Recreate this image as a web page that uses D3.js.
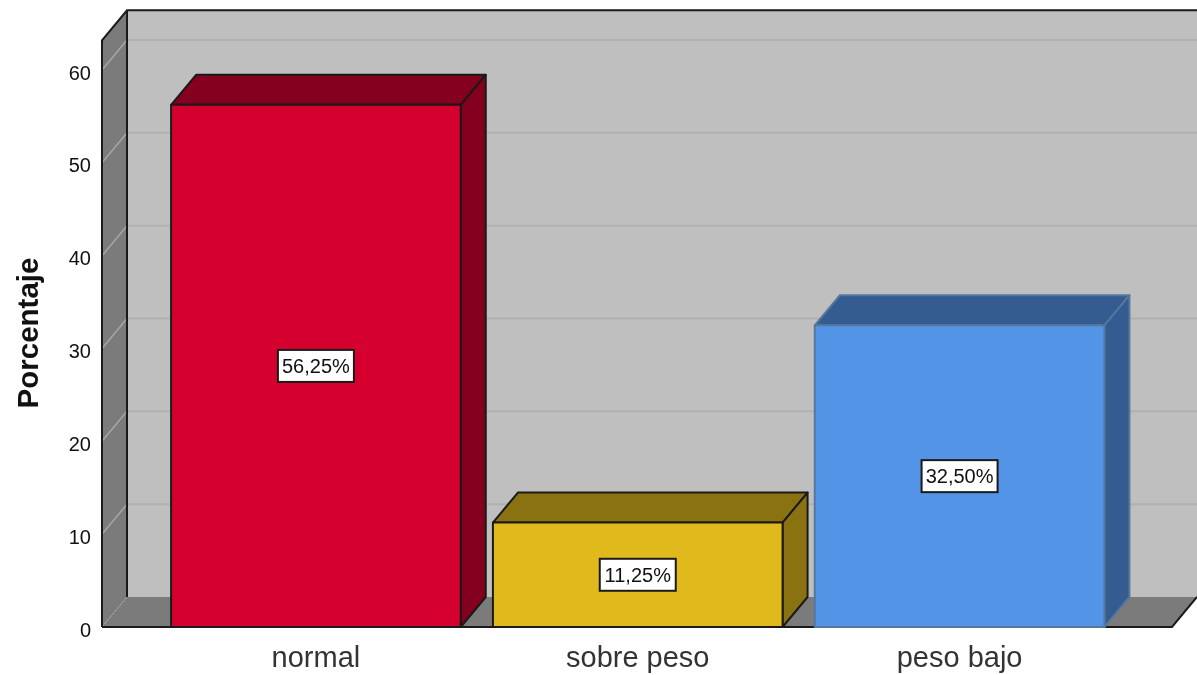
<!DOCTYPE html>
<html><head><meta charset="utf-8">
<script src="https://cdn.jsdelivr.net/npm/d3@7/dist/d3.min.js"></script>
<style>html,body{margin:0;padding:0;background:#fff}svg{display:block;filter:blur(0.45px)}text{font-family:"Liberation Sans",Arial,sans-serif}</style>
</head><body><svg id="c" width="1197" height="675"></svg>
<script>
const categories = ["normal","sobre peso","peso bajo"];
const values = [56.25,11.25,32.5];
const valueLabels = ["56,25%","11,25%","32,50%"];
const frontColors = ["#d6002e","#e0b91c","#5494e6"];
const topColors = ["#84001e","#8a7210","#355c90"];
const edgeColors = ["#1a1a1a","#1a1a1a","#56779c"];
const ticks = [0,10,20,30,40,50,60];
const axisTitle = "Porcentaje";

const svg = d3.select("#c");
const dx = 25, dy = -30;
const y = d3.scaleLinear().domain([0,60]).range([627,70]);
const yTop = 63.2;
const x = d3.scaleBand().domain(categories).range([155,1120.5]).paddingInner(0.1).paddingOuter(0.05);
const left = 102, right = 1172;
const ink = "#1a1a1a";
const poly = (pts,fill,stroke,sw) => svg.append("path").attr("d","M"+pts.map(p=>p.join(",")).join("L")+"Z").attr("fill",fill).attr("stroke",stroke||"none").attr("stroke-width",sw||0).attr("stroke-linejoin","round");

// back wall
poly([[left+dx,y(yTop)+dy],[right+dx,y(yTop)+dy],[right+dx,y(0)+dy],[left+dx,y(0)+dy]],"#bfbfbf");
// floor
poly([[left,y(0)],[right,y(0)],[right+dx,y(0)+dy],[left+dx,y(0)+dy]],"#7b7b7b");
// left wall
poly([[left,y(yTop)],[left+dx,y(yTop)+dy],[left+dx,y(0)+dy],[left,y(0)]],"#7b7b7b");
// grid lines
const gridT = ticks.filter(t=>t>0);
svg.selectAll("line.g").data(gridT).join("line").attr("class","g")
  .attr("x1",left+dx).attr("x2",right+dx).attr("y1",t=>y(t)+dy).attr("y2",t=>y(t)+dy)
  .attr("stroke","#b1b1b1").attr("stroke-width",2);
svg.selectAll("line.gl").data(gridT).join("line").attr("class","gl")
  .attr("x1",left).attr("x2",left+dx).attr("y1",t=>y(t)).attr("y2",t=>y(t)+dy)
  .attr("stroke","#a6a6a6").attr("stroke-width",1.5);
svg.append("line").attr("x1",left).attr("y1",y(0)).attr("x2",left+dx).attr("y2",y(0)+dy)
  .attr("stroke","#a6a6a6").attr("stroke-width",1).attr("stroke-dasharray","2,2");
// frame
svg.append("path").attr("fill","none").attr("stroke",ink).attr("stroke-width",2)
  .attr("d",`M${left},${y(0)}L${left},${y(yTop)}L${left+dx},${y(yTop)+dy}L${right+dx},${y(yTop)+dy}M${left+dx},${y(yTop)+dy}L${left+dx},${y(0)+dy}`);
svg.append("path").attr("fill","none").attr("stroke",ink).attr("stroke-width",2)
  .attr("d",`M${left},${y(0)}L${right},${y(0)}L${right+dx},${y(0)+dy}`);
// bars
categories.forEach((c,i)=>{
  const x0=x(c), x1=x0+x.bandwidth(), t=y(values[i]), b=y(0), e=edgeColors[i];
  poly([[x0,t],[x0+dx,t+dy],[x1+dx,t+dy],[x1,t]],topColors[i],e,2);
  poly([[x1,t],[x1+dx,t+dy],[x1+dx,b+dy],[x1,b]],topColors[i],e,2);
  poly([[x0,t],[x1,t],[x1,b],[x0,b]],frontColors[i],e,2);
  const cx=(x0+x1)/2, cy=(t+b)/2;
  svg.append("rect").attr("x",cx-38).attr("y",cy-16).attr("width",76).attr("height",32)
    .attr("fill","#fff").attr("stroke",ink).attr("stroke-width",2);
  svg.append("text").attr("x",cx).attr("y",cy+7).attr("text-anchor","middle").attr("font-size",20).attr("fill","#111").text(valueLabels[i]);
  svg.append("text").attr("x",cx).attr("y",667).attr("text-anchor","middle").attr("font-size",29).attr("fill","#333").text(c);
});
// ticks
svg.selectAll("text.t").data(ticks).join("text").attr("class","t")
  .attr("x",91).attr("y",t=>y(t)+9.5).attr("text-anchor","end").attr("font-size",20).attr("fill","#111").text(t=>t);
svg.append("text").attr("transform","translate(37.5,333) rotate(-90)").attr("text-anchor","middle")
  .attr("font-size",29.5).attr("font-weight","bold").attr("fill","#111").text(axisTitle);
</script></body></html>
